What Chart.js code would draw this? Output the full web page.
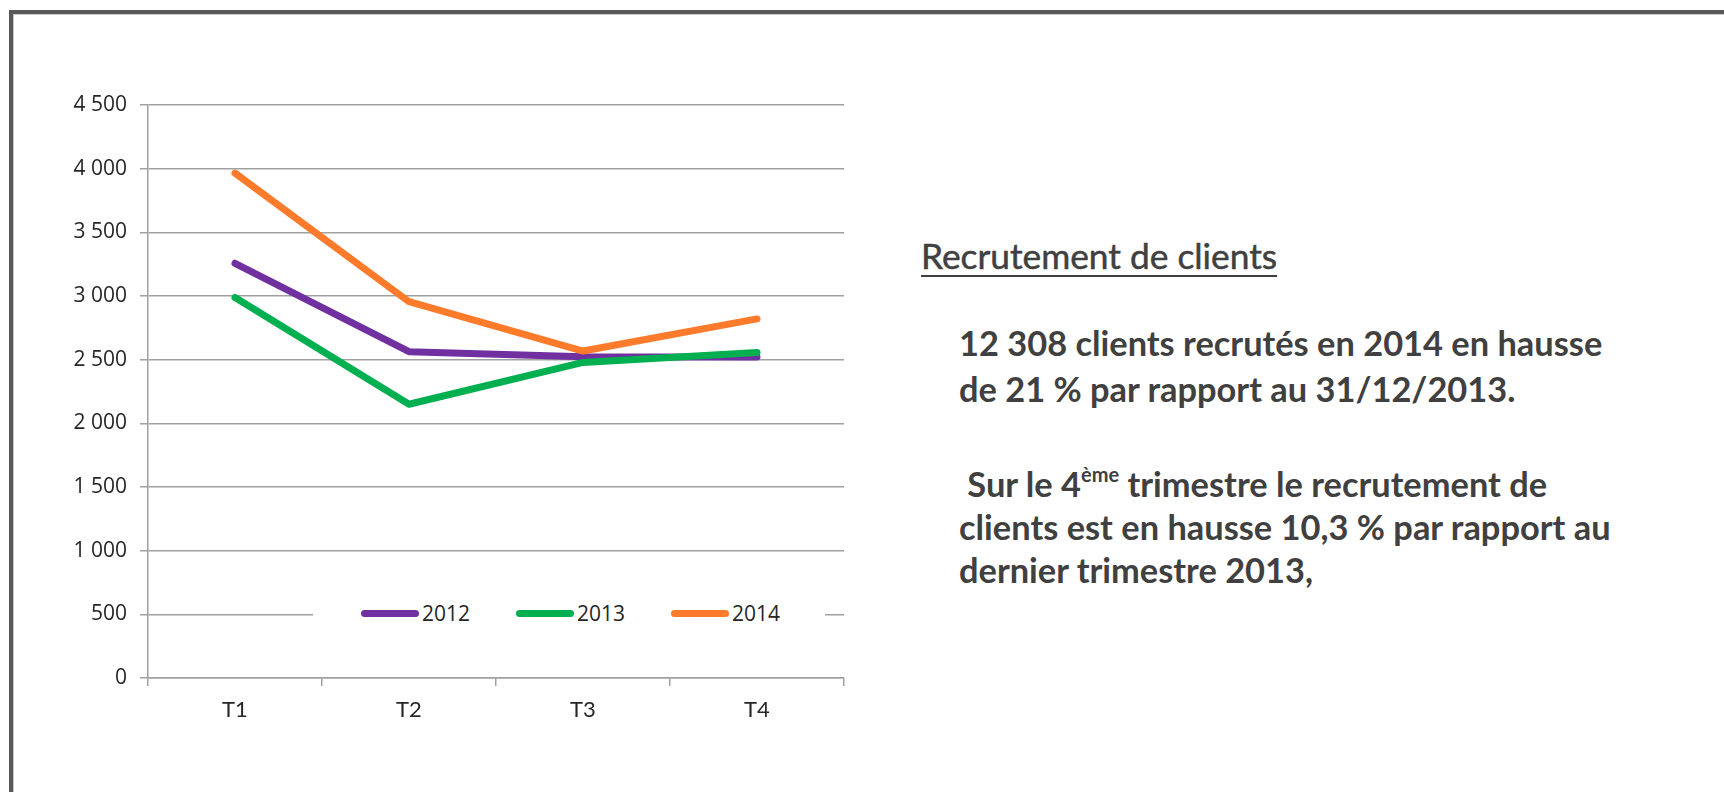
<!DOCTYPE html>
<html lang="fr">
<head>
<meta charset="utf-8">
<title>Recrutement de clients</title>
<script src="https://cdn.jsdelivr.net/npm/chart.js@4.4.1/dist/chart.umd.min.js"></script>
<style>
body { margin: 0; background: #fff; width: 1724px; height: 792px; overflow: hidden; position: relative; }
#frame { position: absolute; left: 9px; top: 10px; width: 1800px; height: 900px; border: 4px solid #595959; box-sizing: border-box; box-shadow: inset 0 0 0 1px #c8c8c8; }
#chart_1 { position: absolute; left: 0; top: 0; }
#legend { position: absolute; left: 313px; top: 599px; width: 512px; height: 28px; background: #fff;
  display: flex; align-items: center; gap: 46px; padding-left: 48px; box-sizing: border-box; }
#legend .item { display: flex; align-items: center; gap: 3px; font: 21px "Open Sans"; color: #262626; }
#legend .sw { width: 58px; height: 7px; border-radius: 4px; }
.txt { position: absolute; color: #404040; font-family: Lato; white-space: nowrap; }
#title { left: 921px; top: 235px; font-size: 35.3px; line-height: 42px; -webkit-text-stroke: 0.5px #404040;
  text-decoration: underline; text-decoration-thickness: 2px; text-underline-offset: 6px; }
.para { left: 959px; font-size: 34.4px; line-height: 46px; font-weight: bold; }
sup { font-size: 20px; line-height: 0; position: relative; top: -3px; }
</style>
</head>
<body>
<div id="frame"></div>
<canvas id="chart_1" width="880" height="760"></canvas>
<div id="legend"></div>
<div class="txt" id="title">Recrutement de clients</div>
<div class="txt para" style="top:320px">12 308 clients recrutés en 2014 en hausse<br>de 21 % par rapport au 31/12/2013.</div>
<div class="txt para" style="top:462px;line-height:43px">&nbsp;Sur le 4<sup>ème</sup> trimestre le recrutement de<br>clients est en hausse 10,3 % par rapport au<br>dernier trimestre 2013,</div>
<script>
// data
const categories = ['T1', 'T2', 'T3', 'T4'];
const seriesNames = ['2012', '2013', '2014'];
const values2012 = [3257, 2563, 2523, 2521];
const values2013 = [2988, 2150, 2478, 2556];
const values2014 = [3965, 2955, 2568, 2820];
const yMin = 0, yMax = 4500, yStep = 500;

const colors = ['#7030a0', '#00b050', '#ff7b2c'];
const gridColor = '#a0a0a0';

function spaced(v) {
    return String(v).replace(/\B(?=(\d{3})+(?!\d))/g, ' ');
}

const datasets = [values2012, values2013, values2014].map(function (vals, i) {
    return {
        label: seriesNames[i],
        data: vals,
        borderColor: colors[i],
        backgroundColor: colors[i],
        order: 2 - i
    };
});

//chart
new Chart(document.getElementById('chart_1'), {
    type: 'line',
    data: { labels: categories, datasets: datasets },
    options: {
        responsive: false,
        animation: false,
        layout: { padding: { top: 105, right: 36, left: 0, bottom: 0 } },
        plugins: { legend: { display: false }, tooltip: { enabled: false } },
        elements: {
            line: { borderWidth: 7, borderCapStyle: 'round', borderJoinStyle: 'round', tension: 0 },
            point: { radius: 0, hoverRadius: 0 }
        },
        scales: {
            x: {
                offset: true,
                grid: { offset: true, drawOnChartArea: false, tickLength: 8, color: gridColor, lineWidth: 1.5 },
                border: { color: gridColor, width: 1.5 },
                ticks: { padding: 11, color: '#262626', font: { family: 'Lato', size: 22 } },
                afterFit: function (s) { s.height = 82; }
            },
            y: {
                min: yMin,
                max: yMax,
                grid: { tickLength: 8, color: gridColor, lineWidth: 1.5 },
                border: { color: gridColor, width: 1.5 },
                ticks: { stepSize: yStep, padding: 13, color: '#262626', font: { family: 'Open Sans', size: 21 },
                    callback: function (v) { return spaced(v); } },
                afterFit: function (s) { s.width = 148; }
            }
        }
    }
});

// legend
const legend = document.getElementById('legend');
datasets.forEach(function (d) {
    const item = document.createElement('div');
    item.className = 'item';
    const sw = document.createElement('span');
    sw.className = 'sw';
    sw.style.background = d.borderColor;
    const t = document.createElement('span');
    t.textContent = d.label;
    item.appendChild(sw);
    item.appendChild(t);
    legend.appendChild(item);
});
</script>
</body>
</html>
